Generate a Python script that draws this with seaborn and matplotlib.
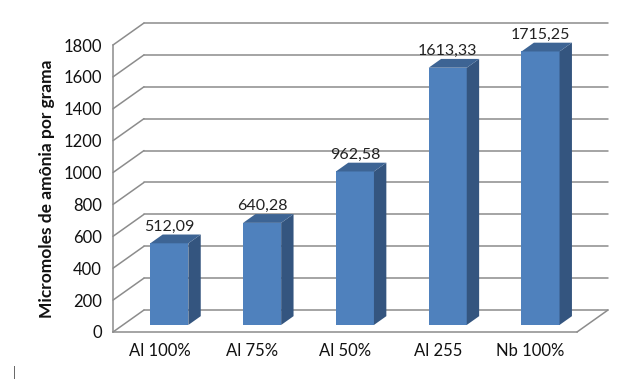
import numpy as np
import matplotlib
matplotlib.use("Agg")
import matplotlib.pyplot as plt
from matplotlib.patches import Polygon
import seaborn as sns

# dados do grafico
amostras = ["Al 100%", "Al 75%", "Al 50%", "Al 255", "Nb 100%"]
micromoles = [512.09, 640.28, 962.58, 1613.33, 1715.25]
y_ticks = [0, 200, 400, 600, 800, 1000, 1200, 1400, 1600, 1800]

sns.set_style("white")
plt.rcParams['font.family'] = ['Lato', 'DejaVu Sans']

cor_frente = "#4F81BD"
cor_lado = "#34557F"
cor_topo = "#3D6494"
cor_grade = "#8C8C8C"

fig = plt.figure(figsize=(6.4, 3.79), dpi=100)
ax = fig.add_axes([113/640, 47/379, 464/640, 287/379])
ax.set_xlim(-0.5, 4.5)
ax.set_ylim(0, 1800)

# vetor de profundidade (efeito 3d) em unidades de dados
px_x = 464 / 5
px_y = 287 / 1800
dx = 31 / px_x
dy = 22 / px_y

# paredes / linhas de grade
for v in y_ticks:
    ax.plot([-0.5, -0.5 + dx], [v, v + dy], color=cor_grade, lw=1.1, clip_on=False, zorder=1)
    ax.plot([-0.5 + dx, 4.5 + dx], [v + dy, v + dy], color=cor_grade, lw=1.1, clip_on=False, zorder=1)
ax.plot([4.5, 4.5 + dx], [0, dy], color=cor_grade, lw=1.1, clip_on=False, zorder=1)

sns.barplot(x=amostras, y=micromoles, color=cor_frente, saturation=1, width=0.41,
            ax=ax, zorder=3, linewidth=0)

f_pos = 0.32
f_prof = 0.4
for p, val in zip(ax.patches, micromoles):
    p.set_x(p.get_x() + f_pos * dx)
    p.set_y(f_pos * dy)
    p.set_clip_on(False)
    x0 = p.get_x()
    x1 = x0 + p.get_width()
    y0 = p.get_y()
    y1 = y0 + p.get_height()
    ddx, ddy = f_prof * dx, f_prof * dy
    lado = Polygon([(x1, y0), (x1 + ddx, y0 + ddy), (x1 + ddx, y1 + ddy), (x1, y1)],
                   closed=True, fc=cor_lado, ec="none", zorder=3, clip_on=False)
    topo = Polygon([(x0, y1), (x1, y1), (x1 + ddx, y1 + ddy), (x0 + ddx, y1 + ddy)],
                   closed=True, fc=cor_topo, ec="none", zorder=3, clip_on=False)
    ax.add_patch(lado)
    ax.add_patch(topo)
    ax.annotate(f"{val:.2f}".replace(".", ","), ((x0 + x1) / 2, y1 + ddy),
                xytext=(0, 0.5), textcoords="offset points", ha="center", va="bottom",
                fontsize=11.5, color="#222222", zorder=5, annotation_clip=False)

sns.despine(ax=ax, top=True, right=True)
for s in ["left", "bottom"]:
    ax.spines[s].set_color(cor_grade)
    ax.spines[s].set_linewidth(1.1)

ax.set_yticks(y_ticks)
ax.tick_params(axis="y", direction="out", length=5, color=cor_grade, labelsize=12,
               labelcolor="#111111", pad=3)
ax.set_xticks(np.arange(-0.5, 5, 1), minor=True)
ax.tick_params(axis="x", which="major", length=0, labelsize=12, labelcolor="#111111", pad=8)
ax.tick_params(axis="x", which="minor", direction="out", length=5, color=cor_grade)
ax.set_ylabel("Micromoles de amônia por grama", fontsize=12.5, fontweight="bold",
              labelpad=6, color="#111111")

fig.text(13/640, 1 - 377/379, "|", color="#555555", fontsize=9)

fig.savefig("out.png", dpi=100)
